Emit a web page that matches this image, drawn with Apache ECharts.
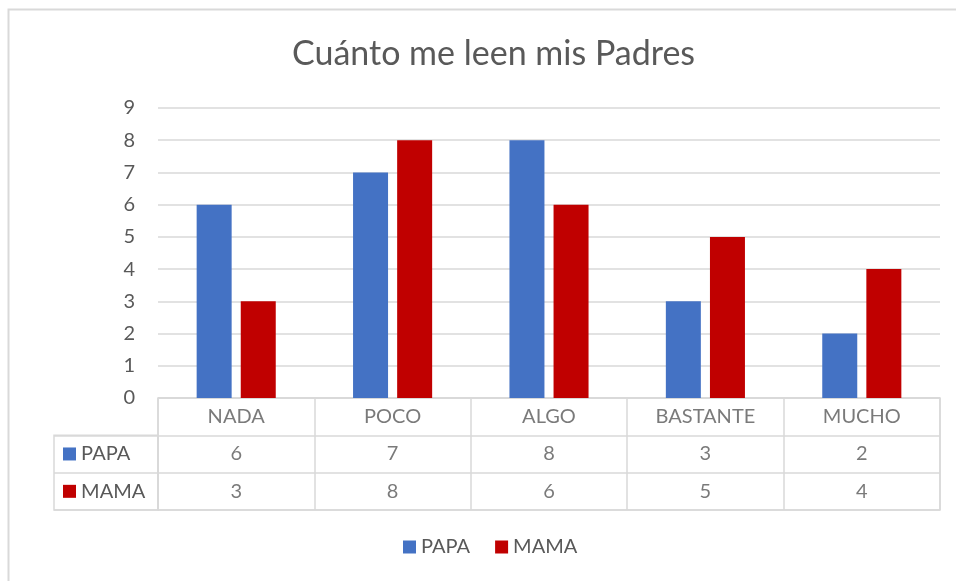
<!DOCTYPE html>
<html>
<head>
<meta charset="utf-8">
<script src="https://cdn.jsdelivr.net/npm/echarts@6/dist/echarts.min.js"></script>
<style>
  html, body { margin: 0; padding: 0; background: #fff; }
  #chart { width: 956px; height: 581px; }
</style>
</head>
<body>
<div id="chart"></div>
<script>
// Datos del gráfico
const categorias = ['NADA', 'POCO', 'ALGO', 'BASTANTE', 'MUCHO'];
const papa = [6, 7, 8, 3, 2];
const mama = [3, 8, 6, 5, 4];
const filas = ['', 'PAPA', 'MAMA'];
const ticksY = [0, 1, 2, 3, 4, 5, 6, 7, 8, 9];

const AZUL = '#4472C4';
const ROJO = '#C00000';
const GRIS = '#595959';
const LINEA = '#d9d9d9';
const FUENTE = 'Lato, "Open Sans", sans-serif';

// Celdas de la tabla de datos
const celdas = [];
categorias.forEach((c, i) => {
    celdas.push([c, filas[0], c]);
    celdas.push([c, filas[1], String(papa[i])]);
    celdas.push([c, filas[2], String(mama[i])]);
});

const chart = echarts.init(document.getElementById('chart'));
const option = {
    backgroundColor: '#fff',
    textStyle: { fontFamily: FUENTE },
    title: {
        text: 'Cuánto me leen mis Padres',
        left: 287,
        top: 32,
        textStyle: { color: GRIS, fontSize: 34, fontWeight: 'normal', fontFamily: FUENTE }
    },
    graphic: [{
        type: 'rect',
        shape: { x: 8.5, y: 9.5, width: 1000, height: 700 },
        style: { fill: 'none', stroke: LINEA, lineWidth: 2 },
        silent: true
    }],
    legend: {
        data: ['PAPA', 'MAMA'],
        left: 398,
        top: 532,
        icon: 'rect',
        itemWidth: 13,
        itemHeight: 13,
        itemGap: 25,
        textStyle: { color: GRIS, fontSize: 20, fontFamily: FUENTE }
    },
    grid: [
        { left: 158, top: 108, width: 782, height: 290 },
        { left: 158, top: 398, width: 782, height: 112, show: true, borderColor: LINEA, borderWidth: 1.5 },
        { left: 54, top: 435.3, width: 104, height: 74.7, show: true, borderColor: LINEA, borderWidth: 1.5 }
    ],
    xAxis: [
        {
            gridIndex: 0, type: 'category', data: categorias,
            axisLine: { show: false }, axisTick: { show: false }, axisLabel: { show: false }
        },
        {
            gridIndex: 1, type: 'category', data: categorias,
            axisLine: { show: false }, axisTick: { show: false }, axisLabel: { show: false },
            splitLine: { show: true, lineStyle: { color: LINEA, width: 1.5 } }
        },
        { gridIndex: 2, type: 'value', show: false }
    ],
    yAxis: [
        {
            gridIndex: 0, type: 'value', min: 0, max: 9, interval: 1,
            axisLine: { show: false }, axisTick: { show: false },
            axisLabel: {
                color: GRIS, fontSize: 20, margin: 23,
                formatter: v => ticksY.includes(v) ? String(v) : ''
            },
            splitLine: { lineStyle: { color: LINEA, width: 1.5 } }
        },
        {
            gridIndex: 1, type: 'category', data: filas, inverse: true,
            axisLine: { show: false }, axisTick: { show: false }, axisLabel: { show: false },
            splitLine: { show: true, lineStyle: { color: LINEA, width: 1.5 } }
        },
        {
            gridIndex: 2, type: 'category', data: ['PAPA', 'MAMA'], inverse: true,
            axisLine: { show: false }, axisTick: { show: false },
            splitLine: { show: true, lineStyle: { color: LINEA, width: 1.5 } },
            axisLabel: {
                inside: true, margin: 9, color: GRIS, fontSize: 20,
                formatter: v => (v === 'PAPA' ? '{a|}' : '{b|}') + ' ' + v,
                rich: {
                    a: { width: 13, height: 13, backgroundColor: AZUL },
                    b: { width: 13, height: 13, backgroundColor: ROJO }
                }
            }
        }
    ],
    series: [
        {
            name: 'PAPA', type: 'bar', data: papa,
            xAxisIndex: 0, yAxisIndex: 0,
            barWidth: 35, barGap: '26%',
            itemStyle: { color: AZUL }
        },
        {
            name: 'MAMA', type: 'bar', data: mama,
            xAxisIndex: 0, yAxisIndex: 0,
            barWidth: 35, barGap: '26%',
            itemStyle: { color: ROJO }
        },
        {
            type: 'scatter', data: celdas,
            xAxisIndex: 1, yAxisIndex: 1,
            symbolSize: 0, silent: true,
            label: {
                show: true, position: 'inside',
                color: GRIS, fontSize: 20, fontFamily: FUENTE,
                formatter: p => p.value[2]
            }
        }
    ],
    animation: false
};
chart.setOption(option);
window.addEventListener('resize', () => chart.resize());
</script>
</body>
</html>
